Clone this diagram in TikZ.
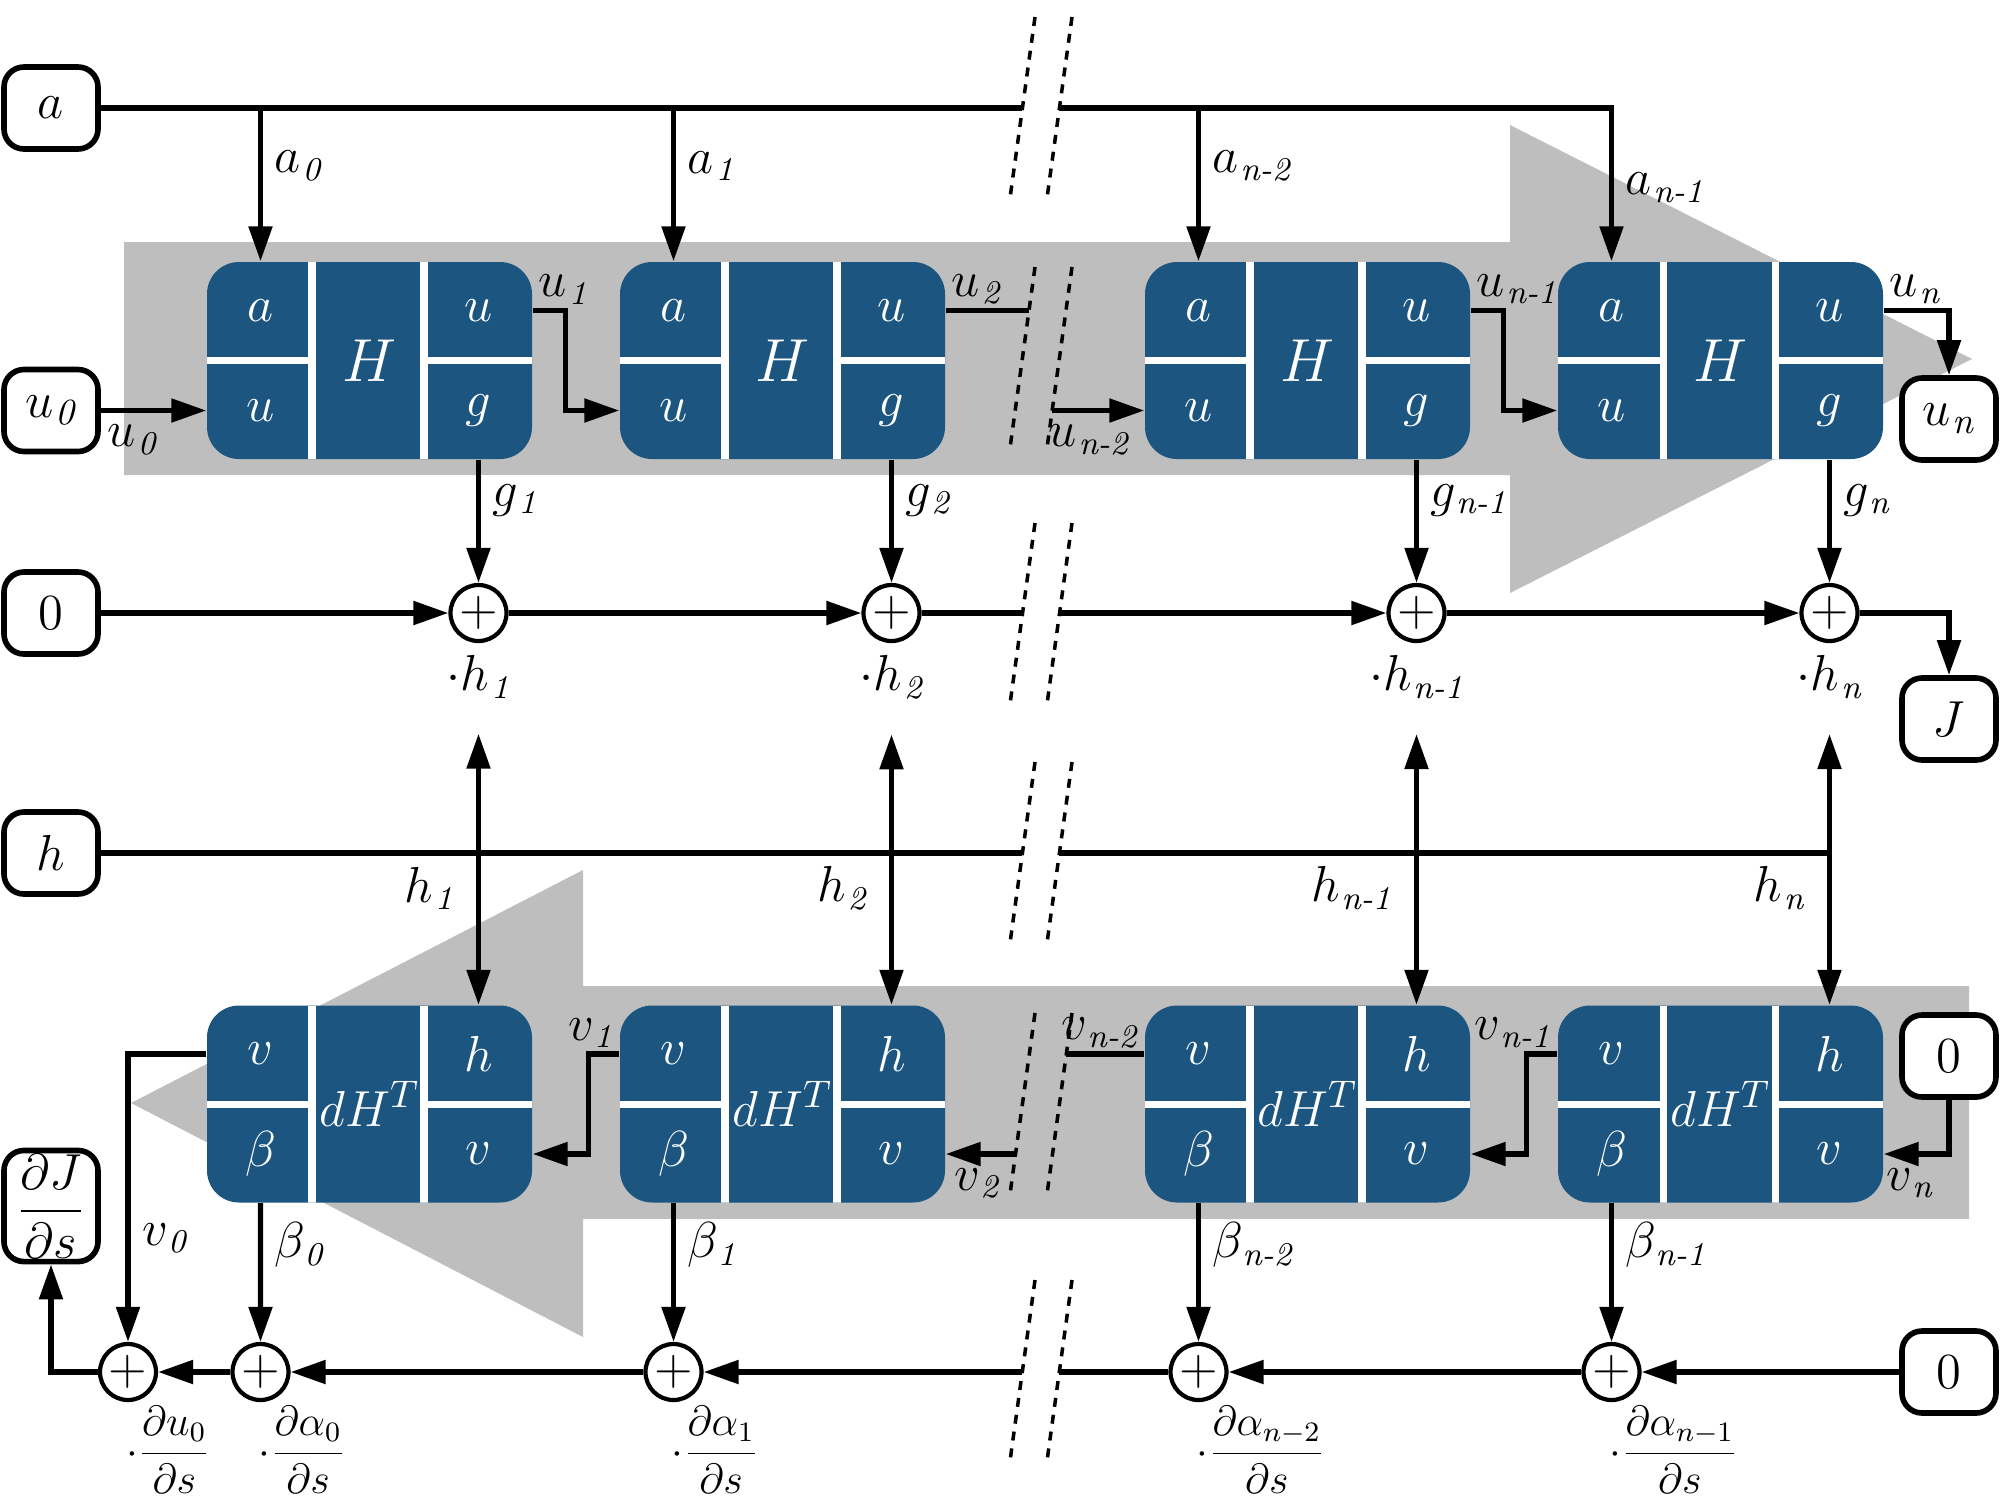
\documentclass[tikz,border=0pt]{standalone}
\usepackage{amsmath}
\usetikzlibrary{arrows.meta,positioning}
\definecolor{blkblue}{RGB}{27,85,128}
\definecolor{bandgray}{RGB}{190,190,190}
\newcommand{\sbs}[1]{_{\mkern1mu\textit{#1}}}

\begin{document}
\begin{tikzpicture}[>={Triangle[length=3.5mm,width=2.3mm]},
    every node/.style={font=\fontsize{13.5}{16}\selectfont},
    io/.style={draw, line width=1.6pt, rounded corners=2mm, fill=white, minimum width=0.94cm, minimum height=0.82cm, inner sep=1pt, font=\fontsize{15}{17}\selectfont},
    blk/.style={fill=blkblue, rounded corners=3.2mm, minimum width=3.25cm, minimum height=1.97cm, inner sep=0pt, text=white, font=\fontsize{17}{19}\selectfont,
        path picture={\draw[white, line width=2pt]
            ([xshift=10.5mm]path picture bounding box.north west) -- ([xshift=10.5mm]path picture bounding box.south west)
            ([xshift=21.7mm]path picture bounding box.north west) -- ([xshift=21.7mm]path picture bounding box.south west)
            (path picture bounding box.west) -- ([xshift=10.5mm]path picture bounding box.west)
            ([xshift=21.7mm]path picture bounding box.west) -- (path picture bounding box.east);}},
    dblk/.style={blk, font=\fontsize{15.5}{18}\selectfont},
    cell/.style={text=white, font=\fontsize{15}{17}\selectfont},
    sum/.style={circle, draw, line width=1.2pt, fill=white, minimum size=5.6mm, inner sep=0pt, font=\fontsize{14}{16}\selectfont},
    frac/.style={anchor=north west, inner sep=1pt, font=\fontsize{12}{14}\selectfont},
    wire/.style={line width=1.5pt},
    brk/.style={line width=1pt, dash pattern=on 0.9mm off 0.8mm}]
    \useasboundingbox (0,0) rectangle (20,-15);

    \fill[bandgray] (1.24,-2.42) -- (15.10,-2.42) -- (15.10,-1.25) -- (19.72,-3.59) -- (15.10,-5.93) -- (15.10,-4.75) -- (1.24,-4.75) -- cycle;
    \fill[bandgray] (19.69,-9.86) -- (5.83,-9.86) -- (5.83,-8.70) -- (1.31,-11.03) -- (5.83,-13.37) -- (5.83,-12.19) -- (19.69,-12.19) -- cycle;

    \foreach \t in {-0.17,-2.67,-5.23,-7.62,-10.13,-12.80} {
        \draw[brk] (10.35,\t) -- ++(-0.25,-1.81);
        \draw[brk] (10.72,\t) -- ++(-0.25,-1.81);
    }

    \foreach \k/\x in {1/3.695, 2/7.825, 3/13.075, 4/17.205} {
        \node[blk] (H\k) at (\x,-3.605) {$H$};
        \node[cell] (Ha\k) at (\x-1.09,-3.105) {$a$};
        \node[cell] (Hu\k) at (\x-1.09,-4.105) {$u$};
        \node[cell] (Ho\k) at (\x+1.09,-3.105) {$u$};
        \node[cell] (Hg\k) at (\x+1.09,-4.105) {$g$};
        \node[dblk] (D\k) at (\x,-11.04) {$dH^T$};
        \node[cell] (Dv\k) at (\x-1.09,-10.54) {$v$};
        \node[cell] (Db\k) at (\x-1.09,-11.54) {$\beta$};
        \node[cell] (Dh\k) at (\x+1.09,-10.54) {$h$};
        \node[cell] (Dw\k) at (\x+1.09,-11.54) {$v$};
    }

    \node[io] (a) at (0.51,-1.08) {$a$};
    \node[io] (u0) at (0.51,-4.105) {$u\sbs{0}$};
    \node[io] (z1) at (0.51,-6.13) {$0$};
    \node[io] (h) at (0.51,-8.53) {$h$};
    \node[io, minimum height=1.02cm] (dJ) at (0.51,-12.06) {$\dfrac{\partial J}{\partial s}$};
    \node[io] (un) at (19.49,-4.19) {$u\sbs{n}$};
    \node[io] (J) at (19.49,-7.19) {$J$};
    \node[io] (z2) at (19.49,-10.56) {$0$};
    \node[io] (z3) at (19.49,-13.72) {$0$};

    \node[sum] (S1) at (4.785,-6.13) {$+$};
    \node[sum] (S2) at (8.915,-6.13) {$+$};
    \node[sum] (S3) at (14.165,-6.13) {$+$};
    \node[sum] (S4) at (18.295,-6.13) {$+$};
    \node[sum] (P0) at (1.28,-13.72) {$+$};
    \node[sum] (P1) at (2.605,-13.72) {$+$};
    \node[sum] (P2) at (6.735,-13.72) {$+$};
    \node[sum] (P3) at (11.985,-13.72) {$+$};
    \node[sum] (P4) at (16.115,-13.72) {$+$};

    \node[below=0pt of S1] (hl1) {$\cdot h\sbs{1}$};
    \node[below=0pt of S2] (hl2) {$\cdot h\sbs{2}$};
    \node[below=0pt of S3] (hl3) {$\cdot h\sbs{n-1}$};
    \node[below=0pt of S4] (hl4) {$\cdot h\sbs{n}$};
    \node[frac] (f0) at ([xshift=-0.6mm]P0.south) {$\cdot\dfrac{\partial u_0}{\partial s}$};
    \node[frac] (f1) at ([xshift=-0.6mm]P1.south) {$\cdot\dfrac{\partial \alpha_0}{\partial s}$};
    \node[frac] (f2) at ([xshift=-0.6mm]P2.south) {$\cdot\dfrac{\partial \alpha_1}{\partial s}$};
    \node[frac] (f3) at ([xshift=-0.6mm]P3.south) {$\cdot\dfrac{\partial \alpha_{n-2}}{\partial s}$};
    \node[frac] (f4) at ([xshift=-0.6mm]P4.south) {$\cdot\dfrac{\partial \alpha_{n-1}}{\partial s}$};

    \coordinate (ka1) at (10.224,-1.08);
    \coordinate (ka2) at (10.594,-1.08);
    \coordinate (ku1) at (10.29,-3.105);
    \coordinate (ku2) at (10.522,-4.105);
    \coordinate (ks1) at (10.226,-6.13);
    \coordinate (ks2) at (10.596,-6.13);
    \coordinate (kh1) at (10.224,-8.53);
    \coordinate (kh2) at (10.594,-8.53);
    \coordinate (kv1) at (10.663,-10.54);
    \coordinate (kv2) at (10.155,-11.54);
    \coordinate (kp1) at (10.223,-13.72);
    \coordinate (kp2) at (10.593,-13.72);

    \draw[wire] (a) -- (ka1);
    \draw[wire,->] (ka2) -| (Ha4 |- H4.north) node[pos=0.76, right] {$a\sbs{n-1}$};
    \draw[wire,->] (Ha1 |- a) -- (Ha1 |- H1.north) node[pos=0.38, right] {$a\sbs{0}$};
    \draw[wire,->] (Ha2 |- a) -- (Ha2 |- H2.north) node[pos=0.38, right] {$a\sbs{1}$};
    \draw[wire,->] (Ha3 |- a) -- (Ha3 |- H3.north) node[pos=0.38, right] {$a\sbs{n-2}$};

    \draw[wire,->] (u0) -- (Hu1 -| H1.west) node[pos=0.3, below] {$u\sbs{0}$};
    \draw[wire,->] (Ho1 -| H1.east) node[above right, inner sep=1pt] {$u\sbs{1}$} -- ++(0.33,0) |- (Hu2 -| H2.west);
    \draw[wire] (Ho2 -| H2.east) node[above right, inner sep=1pt] {$u\sbs{2}$} -- (ku1);
    \draw[wire,->] (ku2) -- (Hu3 -| H3.west) node[pos=0.4, below] {$u\sbs{n-2}$};
    \draw[wire,->] (Ho3 -| H3.east) node[above right, inner sep=1pt] {$u\sbs{n-1}$} -- ++(0.33,0) |- (Hu4 -| H4.west);
    \draw[wire,->] (Ho4 -| H4.east) node[above right, inner sep=1pt] {$u\sbs{n}$} -| (un);

    \draw[wire,->] (Hg1 |- H1.south) -- (S1) node[pos=0.33, right] {$g\sbs{1}$};
    \draw[wire,->] (Hg2 |- H2.south) -- (S2) node[pos=0.33, right] {$g\sbs{2}$};
    \draw[wire,->] (Hg3 |- H3.south) -- (S3) node[pos=0.33, right] {$g\sbs{n-1}$};
    \draw[wire,->] (Hg4 |- H4.south) -- (S4) node[pos=0.33, right] {$g\sbs{n}$};

    \draw[wire,->] (z1) -- (S1);
    \draw[wire,->] (S1) -- (S2);
    \draw[wire] (S2) -- (ks1);
    \draw[wire,->] (ks2) -- (S3);
    \draw[wire,->] (S3) -- (S4);
    \draw[wire,->] (S4) -| (J);

    \draw[wire] (h) -- (kh1);
    \draw[wire] (kh2) -- (Dh4 |- h);
    \draw[wire,<->] ([yshift=-2.3mm]hl1.south) -- (Dh1 |- D1.north) node[pos=0.57, left=1mm] {$h\sbs{1}$};
    \draw[wire,<->] ([yshift=-2.3mm]hl2.south) -- (Dh2 |- D2.north) node[pos=0.57, left=1mm] {$h\sbs{2}$};
    \draw[wire,<->] ([yshift=-2.3mm]hl3.south) -- (Dh3 |- D3.north) node[pos=0.57, left=1mm] {$h\sbs{n-1}$};
    \draw[wire,<->] ([yshift=-2.3mm]hl4.south) -- (Dh4 |- D4.north) node[pos=0.57, left=1mm] {$h\sbs{n}$};

    \draw[wire,->] (z2) |- (Dw4 -| D4.east) node[pos=0.8, below] {$v\sbs{n}$};
    \draw[wire,->] (Dv4 -| D4.west) node[above left, inner sep=1pt] {$v\sbs{n-1}$} -- ++(-0.31,0) |- (Dw3 -| D3.east);
    \draw[wire] (Dv3 -| D3.west) node[above left, inner sep=1pt] {$v\sbs{n-2}$} -- (kv1);
    \draw[wire,->] (kv2) -- (Dw2 -| D2.east) node[pos=0.55, below] {$v\sbs{2}$};
    \draw[wire,->] (Dv2 -| D2.west) node[above left, inner sep=1pt] {$v\sbs{1}$} -- ++(-0.31,0) |- (Dw1 -| D1.east);
    \draw[wire,->] (Dv1 -| D1.west) -| (P0) node[pos=0.82, right] {$v\sbs{0}$};

    \draw[wire,->] (Db1 |- D1.south) -- (P1) node[pos=0.3, right] {$\beta\sbs{0}$};
    \draw[wire,->] (Db2 |- D2.south) -- (P2) node[pos=0.3, right] {$\beta\sbs{1}$};
    \draw[wire,->] (Db3 |- D3.south) -- (P3) node[pos=0.3, right] {$\beta\sbs{n-2}$};
    \draw[wire,->] (Db4 |- D4.south) -- (P4) node[pos=0.3, right] {$\beta\sbs{n-1}$};

    \draw[wire,->] (z3) -- (P4);
    \draw[wire,->] (P4) -- (P3);
    \draw[wire] (P3) -- (kp2);
    \draw[wire,->] (kp1) -- (P2);
    \draw[wire,->] (P2) -- (P1);
    \draw[wire,->] (P1) -- (P0);
    \draw[wire,->] (P0) -| (dJ);
\end{tikzpicture}
\end{document}
